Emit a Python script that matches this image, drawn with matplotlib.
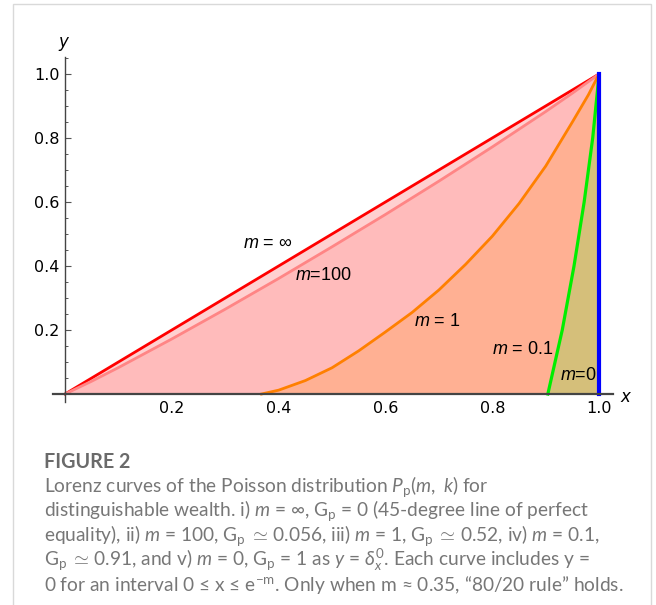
import matplotlib
matplotlib.use("Agg")
import matplotlib.pyplot as plt
from matplotlib.ticker import MultipleLocator, FixedLocator
from matplotlib.patches import Rectangle

plt.rcParams['mathtext.fontset'] = 'custom'
plt.rcParams['mathtext.rm'] = 'Liberation Sans'
plt.rcParams['mathtext.it'] = 'Liberation Sans:italic'
plt.rcParams['mathtext.sf'] = 'Liberation Sans'

# ---- data ----
x_inf = [0.0, 1.0]
y_inf = [0.0, 1.0]

x_100 = [0.0, 0.05, 0.1, 0.2, 0.3, 0.4, 0.5, 0.6, 0.7, 0.8, 0.9, 0.95, 1.0]
y_100 = [0.0, 0.040, 0.0825, 0.172, 0.265, 0.361, 0.460, 0.561, 0.665, 0.772, 0.8825, 0.940, 1.0]

x_1 = [0.368, 0.40, 0.45, 0.50, 0.55, 0.60, 0.65, 0.70, 0.75, 0.80,
       0.85, 0.90, 0.95, 0.98, 1.0]
y_1 = [0.0, 0.012, 0.042, 0.082, 0.135, 0.194, 0.255, 0.325, 0.405, 0.493,
       0.595, 0.712, 0.850, 0.935, 1.0]

x_01 = [0.904, 0.931, 0.953, 0.972, 0.988, 1.0]
y_01 = [0.0, 0.20, 0.40, 0.60, 0.80, 1.0]

x_0 = [1.0, 1.0]
y_0 = [0.0, 1.0]

x_ticks = [0.2, 0.4, 0.6, 0.8, 1.0]
y_ticks = [0.2, 0.4, 0.6, 0.8, 1.0]
tick_labels = ["0.2", "0.4", "0.6", "0.8", "1.0"]

W, H = 656, 605
fig = plt.figure(figsize=(W / 100, H / 100), dpi=100)

# border frame
fig.patches.append(Rectangle((13 / W, -0.01), (651 - 13) / W, 1.01 - 4 / H,
                             transform=fig.transFigure, fill=False,
                             edgecolor="#d9d9d9", linewidth=1.0))

ax = fig.add_axes([53 / W, 1 - 402 / H, (613 - 53) / W, (402 - 57) / H])
ax.set_xlim(-0.0225, 1.026)
ax.set_ylim(-0.025, 1.053)
ax.patch.set_alpha(0)

# fills
ax.fill_between(x_inf, y_inf, 0, color="#ffd0d0", lw=0, zorder=1)
ax.fill_between(x_100, y_100, 0, color="#ffbbbb", lw=0, zorder=2)
ax.fill_between(x_1, y_1, 0, color="#ffb093", lw=0, zorder=3)
ax.fill_between(x_01, y_01, 0, color="#d5bf7a", lw=0, zorder=4)

# curves
ax.plot(x_inf, y_inf, color="#ff0000", lw=2.0, zorder=6)
ax.plot(x_100, y_100, color="#ff8585", lw=2.0, zorder=6)
ax.plot(x_1, y_1, color="#ff8000", lw=2.0, zorder=6, solid_joinstyle="round")
ax.plot(x_01, y_01, color="#00ee00", lw=2.3, zorder=6, solid_joinstyle="round")
ax.plot(x_0, y_0, color="#0000ff", lw=3.0, zorder=7)

# axes styling
for s in ["top", "right"]:
    ax.spines[s].set_visible(False)
ax.spines["left"].set_position(("data", 0))
ax.spines["bottom"].set_position(("data", 0))
for s in ["left", "bottom"]:
    ax.spines[s].set_color("#444444")
    ax.spines[s].set_zorder(8)
ax.spines["left"].set_linewidth(1.0)
ax.spines["bottom"].set_linewidth(1.6)

ax.xaxis.set_major_locator(FixedLocator(x_ticks))
ax.yaxis.set_major_locator(FixedLocator(y_ticks))
ax.set_xticklabels(tick_labels)
ax.set_yticklabels(tick_labels)
ax.xaxis.set_minor_locator(MultipleLocator(0.05))
ax.yaxis.set_minor_locator(MultipleLocator(0.05))
ax.tick_params(which="major", direction="in", length=4.5, width=0.8, color="#555555",
               labelsize=11.5, pad=5)
ax.tick_params(which="minor", direction="in", length=2.5, width=0.7, color="#555555")
ax.tick_params(axis="y", pad=4)

# axis labels
fig.text(63 / W, 1 - 42 / H, "y", fontsize=12, style="italic", ha="center", va="center",
         family="DejaVu Sans")
fig.text(625 / W, 1 - 397 / H, "x", fontsize=12, style="italic", ha="center", va="center",
         family="DejaVu Sans")

# curve labels
lab_kw = dict(fontsize=13, ha="center", va="center", zorder=9, family="Liberation Sans")
def lab(xp, yp, s):
    fig.text(xp / W, 1 - yp / H, s, **lab_kw)

lab(268, 243, r"$m$ = ∞")
lab(323, 276, r"$m$=100")
lab(437, 321, r"$m$ = 1")
lab(523, 349, r"$m$ = 0.1")
lab(578, 375, r"$m$=0")

fig.canvas.draw()

plt.rcParams['mathtext.rm'] = 'Lato'
plt.rcParams['mathtext.it'] = 'Lato:italic'
plt.rcParams['mathtext.sf'] = 'Lato'

# caption
cap_col = "#777777"
cap_fs = 13.8
fig.text(44 / W, 1 - 462 / H, "FIGURE 2", fontsize=14.2, weight="bold", color="#6a6a6a",
         family="Lato", va="center", ha="left")
cap_lines = [
    r"Lorenz curves of the Poisson distribution $P_{\mathrm{p}}(m,\ k)$ for",
    r"distinguishable wealth. i) $m$ = ∞, G$_{\mathrm{p}}$ = 0 (45-degree line of perfect",
    r"equality), ii) $m$ = 100, G$_{\mathrm{p}}\;{\simeq}\!$ 0.056, iii) $m$ = 1, G$_{\mathrm{p}}\;{\simeq}\!$ 0.52, iv) $m$ = 0.1,",
    r"G$_{\mathrm{p}}\;{\simeq}\!$ 0.91, and v) $m$ = 0, G$_{\mathrm{p}}$ = 1 as $y$ = $\delta_x^0$. Each curve includes y =",
    r"0 for an interval 0 ≤ x ≤ e$^{-\mathrm{m}}$. Only when m ≈ 0.35, “80/20 rule” holds.",
]
ys = [487, 511, 536, 560, 585]
for s, yp in zip(cap_lines, ys):
    fig.text(44 / W, 1 - yp / H, s, fontsize=cap_fs, color=cap_col, family=["Lato", "DejaVu Sans"],
             va="center", ha="left")

fig.savefig("out.png", dpi=100)
